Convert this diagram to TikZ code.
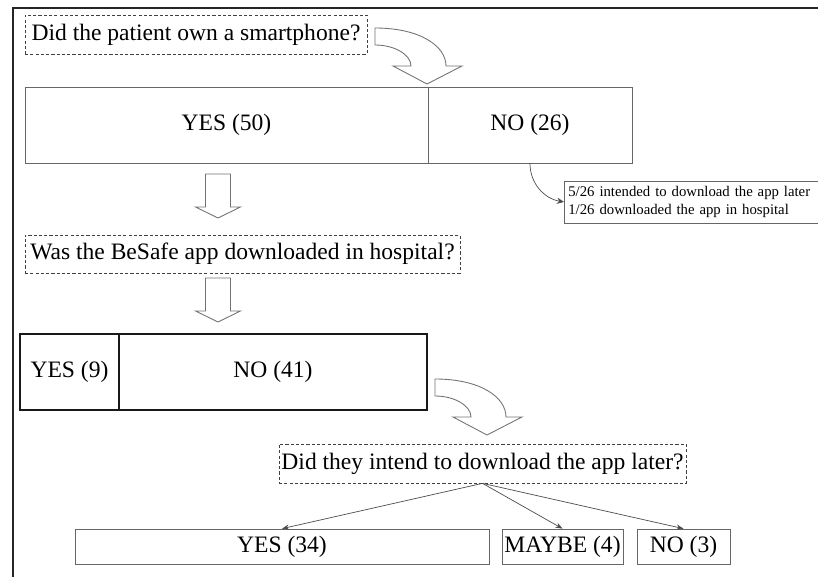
\documentclass[tikz,border=0pt]{standalone}
\usepackage{fontspec}
\setmainfont{Liberation Serif}
\usetikzlibrary{arrows.meta}

\tikzset{
  question/.style={draw=black!75, dash pattern=on 1.8pt off 1.2pt, inner sep=0pt},
  countbox/.style={draw=black!60, inner sep=0pt},
  splitbox/.style={draw=black!90, line width=0.8pt, inner sep=0pt},
  blockarrow/.style={draw=black!55, fill=white, line width=0.5pt},
  pics/downarrow/.style={code={
    \draw[blockarrow] (-12.5,0) -- (12.5,0) -- (12.5,33) -- (22.5,33) -- (0,44) -- (-22.5,33) -- (-12.5,33) -- cycle;}},
  pics/bendarrow/.style={code={
    \draw[blockarrow] (0,0) .. controls (45,0) and (71,18) .. (71,38) -- (87,38) -- (52,56) -- (18,38) -- (36,38) .. controls (36,27) and (20,17) .. (0,17) -- cycle;}}
}

\begin{document}
\begin{tikzpicture}[x=0.02cm, y=-0.02cm, font=\fontsize{13.4}{16}\selectfont]
    \useasboundingbox (0,0) rectangle (818,577);
    \clip (0,0) rectangle (818,577);
    \draw[line width=1.6pt, black!85] (818,8) -- (13,8) -- (13,577);

    % first question
    \node[question, minimum width=6.84cm, minimum height=0.78cm] (q1) at (196,34.5) {Did the patient own a smartphone?};
    \pic at (375,28) {bendarrow};
    \node[countbox, minimum width=8.06cm, minimum height=1.52cm] (yes50) at (226.5,125) {YES (50)};
    \node[countbox, minimum width=4.08cm, minimum height=1.52cm] (no26) at (530,125) {NO (26)};
    \node[countbox, anchor=west, text width=5.3cm, inner xsep=0.08cm, minimum height=0.84cm, align=left,
          font=\fontsize{8.4}{10.2}\selectfont] (later) at (564,202)
          {5/26 intended to download the app later\\1/26 downloaded the app in hospital};
    \draw[-{Stealth[length=4pt,width=3.5pt]}, black!70] (no26.south) to[out=-90, in=170] (later.west);

    % second question
    \pic at (218,174) {downarrow};
    \node[question, minimum width=8.7cm, minimum height=0.76cm] (q2) at (242.5,254) {Was the BeSafe app downloaded in hospital?};
    \pic at (218,278) {downarrow};
    \node[splitbox, minimum width=1.98cm, minimum height=1.52cm] (yes9) at (69.5,372) {YES (9)};
    \node[splitbox, minimum width=6.16cm, minimum height=1.52cm] (no41) at (273,372) {NO (41)};

    % third question
    \pic at (435,379) {bendarrow};
    \node[question, minimum width=8.14cm, minimum height=0.78cm] (q3) at (482.5,463.5) {Did they intend to download the app later?};
    \node[countbox, minimum width=8.28cm, minimum height=0.7cm] (yes34) at (282,546.5) {YES (34)};
    \node[countbox, minimum width=2.42cm, minimum height=0.7cm] (maybe4) at (562.5,546.5) {MAYBE (4)};
    \node[countbox, minimum width=1.86cm, minimum height=0.7cm] (no3) at (683.5,546.5) {NO (3)};
    \foreach \b in {yes34,maybe4,no3}
        \draw[-{Stealth[length=4pt,width=3pt]}, black!70] (q3.south) -- (\b.north);
\end{tikzpicture}
\end{document}
